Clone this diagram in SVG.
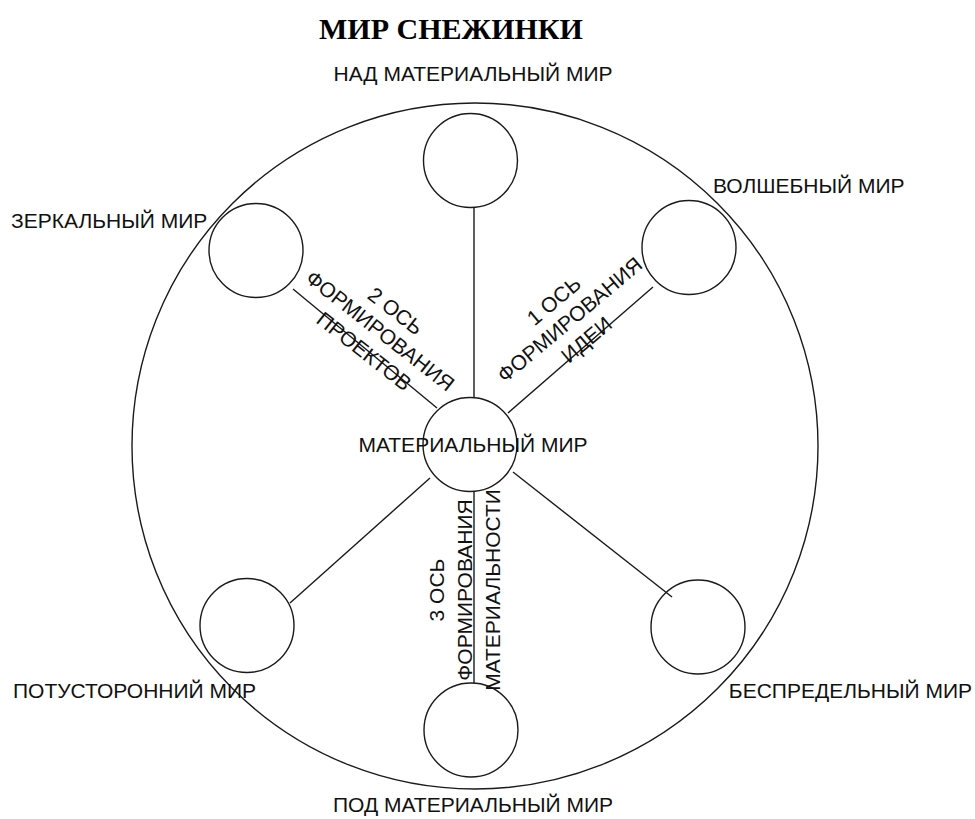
<svg xmlns="http://www.w3.org/2000/svg" width="975" height="819" viewBox="0 0 975 819">
<style>
.c{fill:none;stroke:#1a1a1a;stroke-width:1.4}
.l{stroke:#1a1a1a;stroke-width:1.4}
.t{font-family:"Liberation Sans",Arial,sans-serif;font-size:21px;fill:#111}
.m{text-anchor:middle}
.title{font-family:"Liberation Serif","Times New Roman",serif;font-weight:bold;font-size:30px;fill:#000;text-anchor:middle}
</style>
<rect width="975" height="819" fill="#fff"/>
<text class="title" x="451" y="39">МИР СНЕЖИНКИ</text>
<g id="outer"><circle class="c" cx="475" cy="446" r="343"/></g>
<g id="connectors">
<line class="l" x1="474" y1="207" x2="474" y2="397"/>
<line class="l" x1="293" y1="289" x2="437" y2="408"/>
<line class="l" x1="653" y1="287" x2="508" y2="413"/>
<line class="l" x1="290" y1="603" x2="430" y2="478"/>
<line class="l" x1="513" y1="472" x2="672" y2="597"/>
<line class="l" x1="474" y1="492" x2="474" y2="683"/>
</g>
<g id="center"><circle class="c" cx="470" cy="444.5" r="47"/><text class="t m" x="473" y="452">МАТЕРИАЛЬНЫЙ МИР</text></g>
<g id="top"><circle class="c" cx="470.5" cy="160.5" r="47"/><text class="t m" x="473" y="81">НАД МАТЕРИАЛЬНЫЙ МИР</text></g>
<g id="mirror"><circle class="c" cx="256" cy="250.5" r="47"/><text class="t" x="11" y="228">ЗЕРКАЛЬНЫЙ МИР</text></g>
<g id="magic"><circle class="c" cx="689" cy="247.5" r="47"/><text class="t" x="713" y="193">ВОЛШЕБНЫЙ МИР</text></g>
<g id="other"><circle class="c" cx="247" cy="625.5" r="47"/><text class="t" x="13" y="698">ПОТУСТОРОННИЙ МИР</text></g>
<g id="boundless"><circle class="c" cx="698" cy="627" r="47"/><text class="t" x="972" y="698" text-anchor="end">БЕСПРЕДЕЛЬНЫЙ МИР</text></g>
<g id="bottom"><circle class="c" cx="471" cy="730" r="47"/><text class="t m" x="473" y="812">ПОД МАТЕРИАЛЬНЫЙ МИР</text></g>
<g id="axis2" transform="translate(380,331) rotate(38)"><text class="t m" x="0" y="-18">2 ОСЬ</text><text class="t m" x="0" y="7">ФОРМИРОВАНИЯ</text><text class="t m" x="0" y="33">ПРОЕКТОВ</text></g>
<g id="axis1" transform="translate(570,320) rotate(-40)"><text class="t m" x="0" y="-18">1 ОСЬ</text><text class="t m" x="0" y="7">ФОРМИРОВАНИЯ</text><text class="t m" x="0" y="33">ИДЕИ</text></g>
<g id="axis3" transform="translate(465,590) rotate(-90)"><text class="t m" x="0" y="-21">3 ОСЬ</text><text class="t m" x="0" y="7">ФОРМИРОВАНИЯ</text><text class="t m" x="0" y="35">МАТЕРИАЛЬНОСТИ</text></g>
</svg>
